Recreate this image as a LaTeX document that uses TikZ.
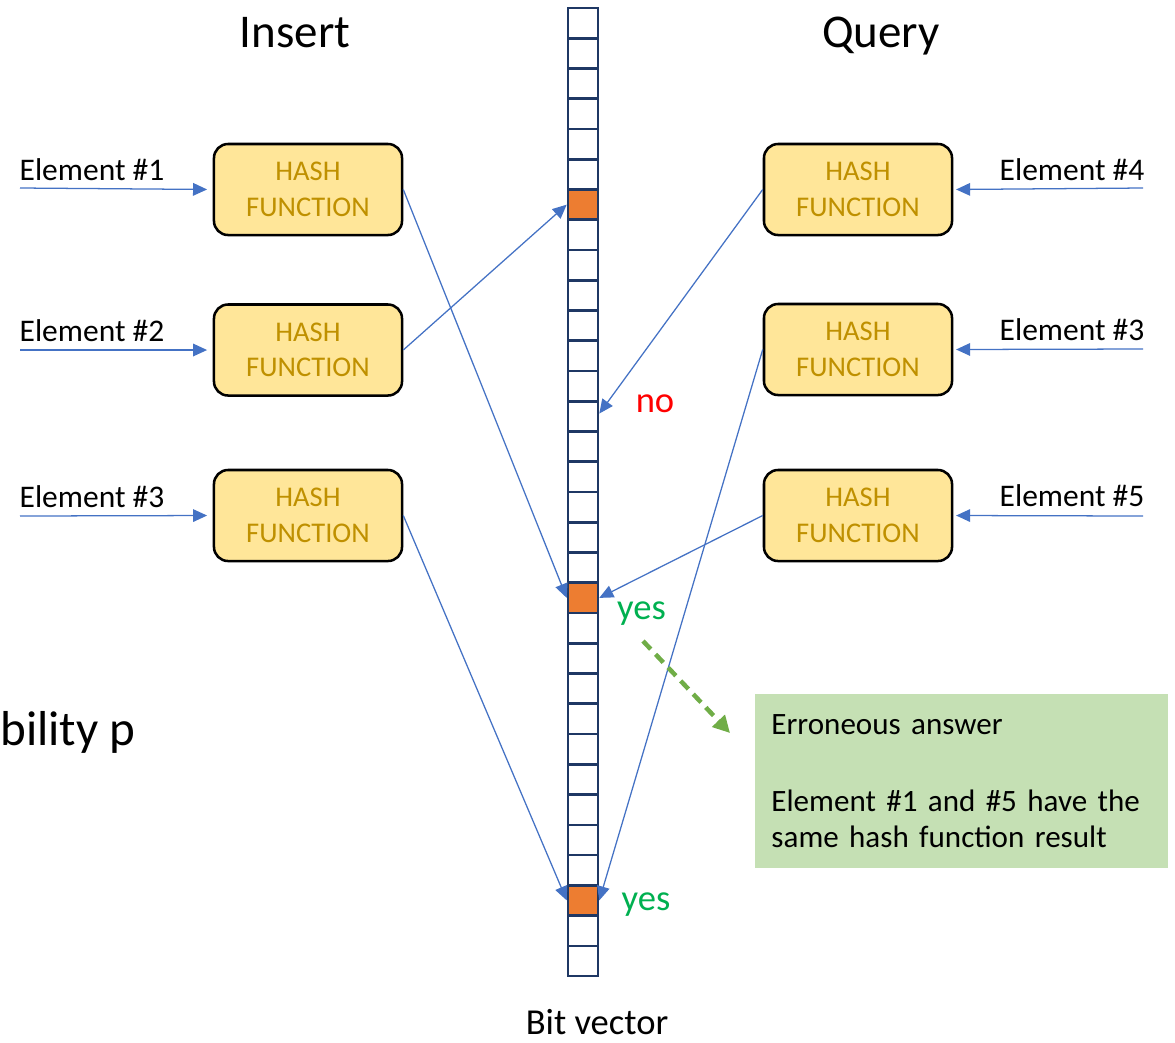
\documentclass[tikz,border=0pt]{standalone}
\usepackage{fontspec}
\setmainfont{Carlito}
\usepackage{xcolor}
\usetikzlibrary{arrows.meta,positioning,calc}

\definecolor{hashfill}{HTML}{FFE699}
\definecolor{hashtext}{HTML}{BF9000}
\definecolor{bitline}{HTML}{1F3864}
\definecolor{bitset}{HTML}{ED7D31}
\definecolor{linkblue}{HTML}{4472C4}
\definecolor{notefill}{HTML}{C5E0B4}
\definecolor{noteline}{HTML}{70AD47}
\definecolor{yesgreen}{HTML}{00B050}

\tikzset{
  title/.style={font=\fontsize{33.4}{40}\selectfont, anchor=base, inner sep=0pt},
  elem/.style={font=\fontsize{22.4}{27}\selectfont, anchor=base, inner sep=0pt},
  hashbox/.style={draw, line width=1.8pt, rounded corners=10pt, fill=hashfill, text=hashtext,
    minimum width=4.7cm, minimum height=2.275cm, align=center, font=\fontsize{20.3}{25.3}\selectfont},
  bit/.style={draw=bitline, line width=1.8pt, minimum width=0.75cm, minimum height=0.75625cm, inner sep=0pt},
  link/.style={->, draw=linkblue, line width=0.9pt},
  answer/.style={font=\fontsize{26}{31}\selectfont, anchor=base, inner sep=0pt},
  note/.style={fill=notefill, text width=9.5cm, inner xsep=11.7pt, inner ysep=0pt,
    minimum height=4.35cm, align=left, font=\fontsize{22.1}{25.6}\selectfont},
  hint/.style={-{Triangle[length=12pt,width=12pt]}, draw=noteline, line width=3.2pt, dash pattern=on 8pt off 5pt}
}

\begin{document}
\begin{tikzpicture}[x=0.025cm, y=-0.025cm, >={Triangle[length=10pt,width=9pt]}]
\useasboundingbox (0,0) rectangle (1175,1042);

% titles
\node[title] (ins) at (295,47) {Insert};
\node[title] (qry) at (881,47) {Query};

% bit vector
\foreach \i in {0,...,31}{
  \def\bitfill{white}
  \ifnum\i=6 \def\bitfill{bitset}\fi
  \ifnum\i=19 \def\bitfill{bitset}\fi
  \ifnum\i=29 \def\bitfill{bitset}\fi
  \node[bit, fill=\bitfill] (b\i) at (583,{23.125+30.25*\i}) {};
}
\node[answer] (bv) at (597,1034) {Bit vector};

% insert side
\node[hashbox] (h1) at (308,189.5) {HASH\\FUNCTION};
\node[hashbox] (h2) at (308,350) {HASH\\FUNCTION};
\node[hashbox] (h3) at (308,515.5) {HASH\\FUNCTION};
\node[elem] (e1) at (92,180) {Element \#1};
\node[elem] (e2) at (92,341) {Element \#2};
\node[elem] (e3) at (92,507) {Element \#3};
\coordinate (s1) at (20,188);
\coordinate (s2) at (20,350);
\coordinate (s3) at (20,516);
\draw[link, shorten >=4pt] (s1) -- (h1.west);
\draw[link, shorten >=4pt] (s2) -- (h2.west);
\draw[link, shorten >=4pt] (s3) -- (h3.west);

% query side
\node[hashbox] (q1) at (858,189.5) {HASH\\FUNCTION};
\node[hashbox] (q2) at (858,349.5) {HASH\\FUNCTION};
\node[hashbox] (q3) at (858,515.5) {HASH\\FUNCTION};
\node[elem] (e4) at (1072,180) {Element \#4};
\node[elem] (e5) at (1072,340) {Element \#3};
\node[elem] (e6) at (1072,506) {Element \#5};
\coordinate (t1) at (1143,188);
\coordinate (t2) at (1143,349);
\coordinate (t3) at (1143,516);
\draw[link, shorten >=2pt] (t1) -- (q1.east);
\draw[link, shorten >=2pt] (t2) -- (q2.east);
\draw[link, shorten >=2pt] (t3) -- (q3.east);

% hashes into the vector
\draw[link] (h1.east) -- (b19.west);
\draw[link] (h2.east) -- (b6.west);
\draw[link] (h3.east) -- (b29.west);
\draw[link] (q1.west) -- ([yshift=2pt]b13.east);
\draw[link] (q2.west) -- (b29.east);
\draw[link] (q3.west) -- (b19.east);

% answers
\node[answer, text=red] (no) at (655,412) {no};
\node[answer, text=yesgreen] (yes1) at (641.5,619) {yes};
\node[answer, text=yesgreen] (yes2) at (646,910) {yes};

% false positive note
\node[anchor=base west, inner sep=0pt, font=\fontsize{34.9}{42}\selectfont] (prob) at (0,745) {bility p};
\node[note] (err) at (961.5,781) {Erroneous answer\\[29.2pt]Element \#1 and \#5 have the\\same hash function result};
\coordinate (d1) at (643,641);
\coordinate (d2) at (730,733);
\draw[hint] (d1) -- (d2);
\end{tikzpicture}
\end{document}
